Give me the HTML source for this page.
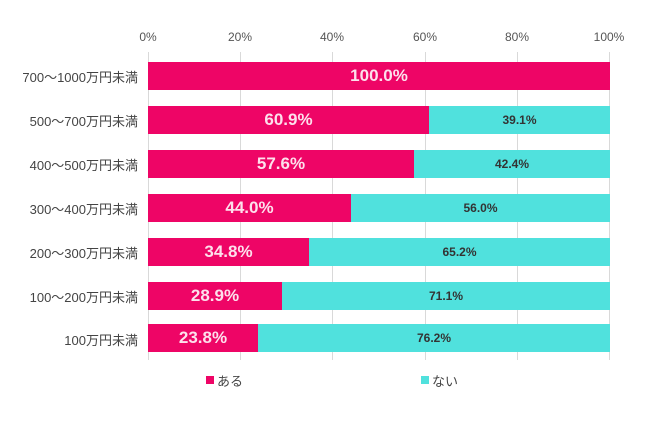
<!DOCTYPE html>
<html><head><meta charset="utf-8"><style>
body{margin:0;width:650px;height:424px;background:#fff;position:relative;overflow:hidden;font-family:"Liberation Sans","Noto Sans CJK JP",sans-serif}
.a{position:absolute}
.g{position:absolute;top:52px;height:308px;width:1px;background:#d9d9d9}
.t{position:absolute;top:30px;width:50px;margin-left:-25px;text-align:center;font-size:12px;color:#555}
.l{position:absolute;left:0;width:138px;text-align:right;font-size:13px;color:#444}
.p{position:absolute;left:148px;height:28px;background:#ee0566;color:#fde0ec;font-weight:bold;font-size:17px;text-align:center;line-height:28px}
.c{position:absolute;height:28px;background:#50e1dd;color:#333;font-weight:bold;font-size:12px;text-align:center;line-height:28px}
</style></head><body>
<div class="g" style="left:148px"></div><div class="g" style="left:240px"></div><div class="g" style="left:332px"></div><div class="g" style="left:425px"></div><div class="g" style="left:517px"></div><div class="g" style="left:609px"></div>
<div class="t" style="left:148px">0%</div><div class="t" style="left:240px">20%</div><div class="t" style="left:332px">40%</div><div class="t" style="left:425px">60%</div><div class="t" style="left:517px">80%</div><div class="t" style="left:609px">100%</div>

<div class="l" style="top:67px">700～1000万円未満</div>
<div class="p" style="top:62px;width:462px">100.0%</div>

<div class="l" style="top:111px">500～700万円未満</div>
<div class="p" style="top:106px;width:281px">60.9%</div><div class="c" style="top:106px;left:429px;width:181px">39.1%</div>

<div class="l" style="top:155px">400～500万円未満</div>
<div class="p" style="top:150px;width:266px">57.6%</div><div class="c" style="top:150px;left:414px;width:196px">42.4%</div>

<div class="l" style="top:199px">300～400万円未満</div>
<div class="p" style="top:194px;width:203px">44.0%</div><div class="c" style="top:194px;left:351px;width:259px">56.0%</div>

<div class="l" style="top:243px">200～300万円未満</div>
<div class="p" style="top:238px;width:161px">34.8%</div><div class="c" style="top:238px;left:309px;width:301px">65.2%</div>

<div class="l" style="top:287px">100～200万円未満</div>
<div class="p" style="top:282px;width:134px">28.9%</div><div class="c" style="top:282px;left:282px;width:328px">71.1%</div>

<div class="l" style="top:330px">100万円未満</div>
<div class="p" style="top:324px;width:110px">23.8%</div><div class="c" style="top:324px;left:258px;width:352px">76.2%</div>

<div class="a" style="left:206px;top:376px;width:8px;height:8px;background:#ee0566"></div>
<div class="a" style="left:217px;top:371px;font-size:13px;color:#444">ある</div>
<div class="a" style="left:421px;top:376px;width:8px;height:8px;background:#50e1dd"></div>
<div class="a" style="left:432px;top:371px;font-size:13px;color:#444">ない</div>
</body></html>
